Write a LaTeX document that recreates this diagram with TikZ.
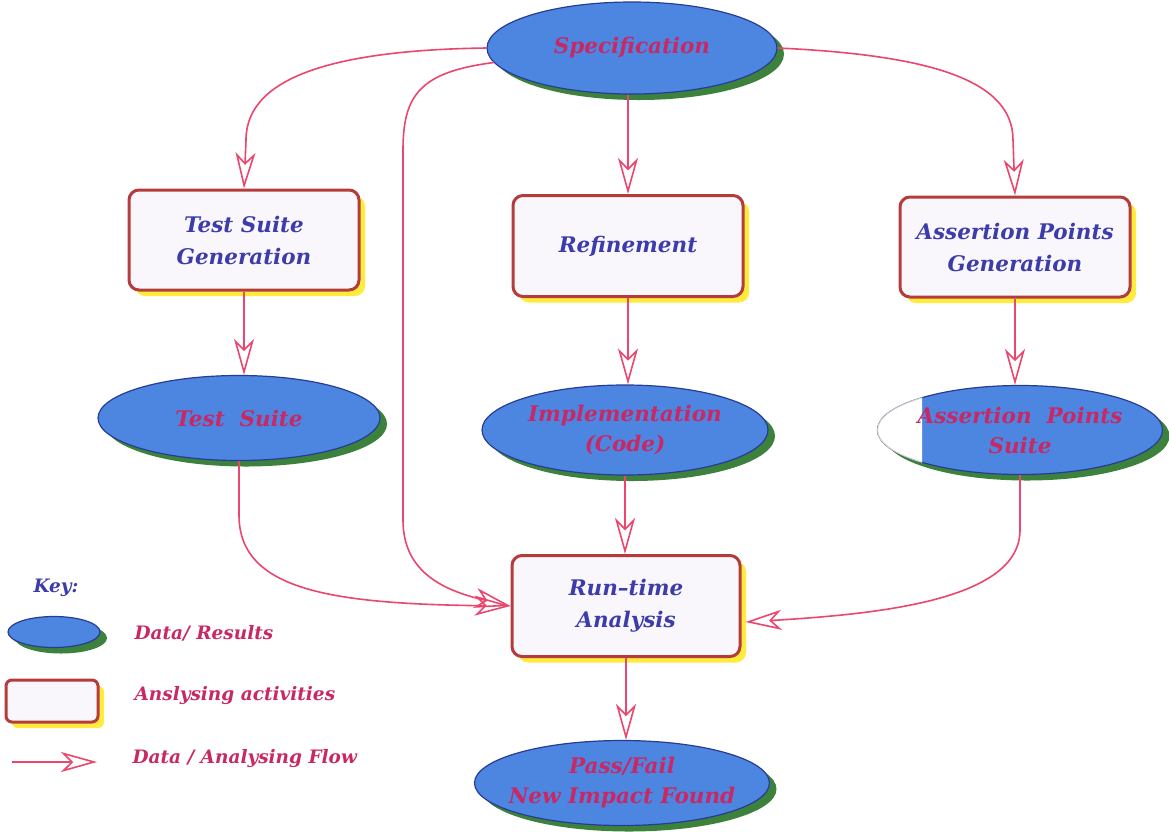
\documentclass[tikz,border=0pt]{standalone}
\usepackage{fontspec}
\setmainfont{DejaVu Serif}
\usetikzlibrary{shapes.geometric,shadows,arrows.meta,calc}
\definecolor{datafill}{RGB}{76,134,224}
\definecolor{dataline}{RGB}{40,60,150}
\definecolor{datashade}{RGB}{60,130,60}
\definecolor{datatext}{RGB}{200,40,100}
\definecolor{acttext}{RGB}{60,60,170}
\definecolor{actline}{RGB}{180,60,60}
\definecolor{actfill}{RGB}{250,247,252}
\definecolor{actshade}{RGB}{255,235,60}
\definecolor{flowcol}{RGB}{235,70,110}
\tikzset{
  lbl/.style={font=\fontsize{21.5}{32}\selectfont\bfseries\itshape, align=center},
  data/.style={ellipse, draw=dataline, line width=1.2pt, fill=datafill, inner sep=0pt,
    text=datatext, lbl, font=\fontsize{21.5}{30}\selectfont\bfseries\itshape,
    drop shadow={shadow xshift=7pt, shadow yshift=-6pt, fill=datashade, opacity=1}},
  activity/.style={rectangle, rounded corners=10pt, draw=actline, line width=3pt,
    fill=actfill, inner sep=0pt, text=acttext, lbl,
    drop shadow={shadow xshift=6pt, shadow yshift=-6pt, fill=actshade, opacity=1}},
  flow/.style={draw=flowcol, line width=1.6pt,
    -{Stealth[open, length=36pt, width=20pt, inset=10pt]}},
  keytext/.style={font=\fontsize{18.5}{22}\selectfont\bfseries\itshape, text=datatext, anchor=west}
}
\begin{document}
\begin{tikzpicture}[x=1pt, y=-1pt]
\useasboundingbox[fill=white] (0,0) rectangle (1169,831);

% data items
\node[data, minimum width=290pt, minimum height=92pt] (spec) at (632,48) {Specification};
\node[data, minimum width=282pt, minimum height=85pt] (ts) at (239,418) {Test\ \ Suite};
\node[data, minimum width=286pt, minimum height=90pt, inner xsep=-20pt] (impl) at (625,430) {Implementation\\(Code)};
\node[data, minimum width=285pt, minimum height=89pt] (aps) at (1020,430) {};
% left part of this ellipse is left unfilled
\begin{scope}
  \clip (870,380) rectangle (922,480);
  \fill[white] (1020,430) ellipse [x radius=142.5pt, y radius=44.5pt];
  \draw[black!20, line width=1pt] (1020,430) ellipse [x radius=142.5pt, y radius=44.5pt];
\end{scope}
\node[lbl, text=datatext, font=\fontsize{21.5}{30}\selectfont\bfseries\itshape] (apstext) at (aps.center) {Assertion\ \ Points\\Suite};
\node[data, minimum width=295pt, minimum height=85pt, inner xsep=-40pt, inner ysep=-10pt] (pf) at (622,783) {Pass/Fail\\New Impact Found};

% activities
\node[activity, minimum width=230pt, minimum height=100pt] (tsg) at (244,240) {Test Suite\\Generation};
\node[activity, minimum width=230pt, minimum height=101pt] (ref) at (628,246) {Refinement};
\node[activity, minimum width=230pt, minimum height=100pt] (apg) at (1015,247) {Assertion Points\\Generation};
\node[activity, minimum width=228pt, minimum height=101pt] (rta) at (626,606) {Run--time\\Analysis};

% flows
\draw[flow] (spec.west) .. controls (340,50) and (246,75) .. (246,140) -- (tsg.north);
\draw[flow] (spec.186) .. controls (420,72) and (403,95) .. (403,150) -- (403,520)
  .. controls (403,570) and (440,590) .. (rta.west);
\draw[flow] (spec.south -| ref.north) -- (ref.north);
\draw[flow] (spec.east) .. controls (930,55) and (1013,80) .. (1013,140) -- (apg.north);
\draw[flow] (tsg.south) -- (tsg.south |- ts.north);
\draw[flow] (ref.south) -- (ref.south |- impl.north);
\draw[flow] (apg.south) -- (apg.south |- aps.north);
\draw[flow] (ts.south) -- (239,515) .. controls (239,590) and (330,604) .. (rta.west);
\draw[flow] (impl.south) -- (impl.south |- rta.north);
\draw[flow, shorten >=4pt] (aps.south) -- (1020,530) .. controls (1020,600) and (880,614) .. (rta.-8);
\draw[flow] (rta.south) -- (rta.south |- pf.north);

% key
\node[font=\fontsize{18.5}{22}\selectfont\bfseries\itshape, text=acttext, anchor=west] (key) at (30,588) {Key:};
\node[data, minimum width=92pt, minimum height=31pt,
  drop shadow={shadow xshift=2pt, shadow yshift=-2pt, fill=datashade, opacity=1}] (kdata) at (54,632) {};
\node[keytext] (kdatal) at (131,633) {Data/ Results};
\node[activity, minimum width=92pt, minimum height=42pt, rounded corners=6pt,
  drop shadow={shadow xshift=3pt, shadow yshift=-3pt, fill=actshade, opacity=1}] (kact) at (52,701) {};
\node[keytext] (kactl) at (131,696) {Anslysing activities};
\coordinate (kfrom) at (12,762);
\coordinate (kto) at (97,762);
\draw[flow] (kfrom) -- (kto);
\node[keytext] (kflowl) at (129,759) {Data / Analysing Flow};
\end{tikzpicture}
\end{document}
